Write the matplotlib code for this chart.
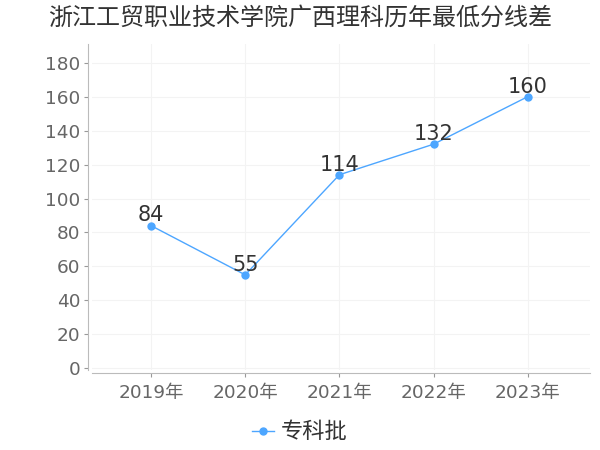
import matplotlib
matplotlib.use('Agg')
import matplotlib.pyplot as plt

plt.rcParams['font.family'] = ['DejaVu Sans', 'Noto Sans CJK SC']

# 数据
nianfen = ['2019年', '2020年', '2021年', '2022年', '2023年']
fencha = [84, 55, 114, 132, 160]
seria = '专科批'
yticks = [0, 20, 40, 60, 80, 100, 120, 140, 160, 180]

fig = plt.figure(figsize=(6, 4.5), dpi=100)
ax = fig.add_axes([0.153, 0.178, 0.830, 0.724])

x = list(range(len(nianfen)))
ax.plot(x, fencha, color='#4da6ff', lw=1, marker='o', ms=5, label=seria, zorder=3)
for xi, v in zip(x, fencha):
    ax.annotate(str(v), (xi, v), xytext=(0, 3), textcoords='offset points',
                ha='center', va='baseline', fontsize=15, color='#333333')

ax.set_xlim(-0.63, 4.66)
ax.set_ylim(-1, 191)
ax.set_xticks(x)
ax.set_xticklabels(nianfen)
ax.set_yticks(yticks)
ax.tick_params(axis='both', colors='#999999', labelcolor='#666666', labelsize=13.3, length=3)
ax.tick_params(axis='x', pad=5)
ax.tick_params(axis='y', pad=2)
ax.grid(True, color='#f3f3f3', lw=0.8)
ax.set_axisbelow(True)

for s in ['top', 'right']:
    ax.spines[s].set_visible(False)
ax.spines['left'].set_color('#bbbbbb')
ax.spines['bottom'].set_color('#bbbbbb')
ax.spines['left'].set_position(('outward', 3))
ax.spines['bottom'].set_position(('outward', 2))

fig.suptitle('浙江工贸职业技术学院广西理科历年最低分线差', x=0.5, y=0.99,
             fontsize=17.3, color='#333333', family='Noto Sans CJK SC')
fig.legend(loc='center', bbox_to_anchor=(0.5, 0.04), frameon=False,
           handlelength=1.0, handletextpad=0.3, labelcolor='#333333',
           prop={'family': 'Noto Sans CJK SC', 'size': 16})

fig.savefig('out.png')
